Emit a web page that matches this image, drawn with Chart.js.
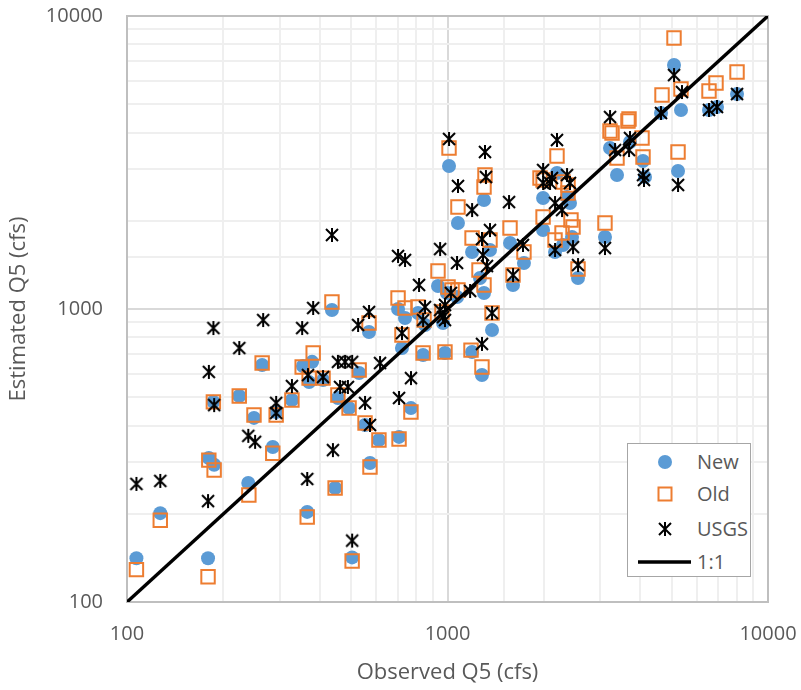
<!DOCTYPE html>
<html>
<head>
<meta charset="utf-8">
<script src="https://cdn.jsdelivr.net/npm/chart.js@4.4.0/dist/chart.umd.min.js"></script>
<style>
  body { margin: 0; background: #fff; }
  #wrap { position: relative; width: 801px; height: 690px; }
  #legend {
    position: absolute; left: 627px; top: 443px; width: 122px; height: 132px;
    border: 1px solid #a6a6a6; background: #fff;
    font-family: "Open Sans", sans-serif; font-size: 20px; color: #595959;
  }
  .item { position: absolute; left: 0; width: 122px; height: 30px; }
  .item svg { position: absolute; left: 0; top: 0; }
  .item span { position: absolute; left: 69px; top: 50%; transform: translateY(-50%); line-height: 1; }
</style>
</head>
<body>
<div id="wrap">
  <canvas id="chart" width="801" height="690"></canvas>
  <div id="legend"></div>
</div>
<script>
// labelled ticks on both log axes
const tickLabels = [100, 1000, 10000];

// New method
const newObserved = [107,127,179,180,187,186,224,239,249,264,285,292,327,354,365,370,378,409,436,446,455,493,504,530,553,569,573,611,701,706,721,737,769,809,839,851,934,968,982,996,1011,1071,1078,1193,1193,1263,1281,1300,1300,1357,1377,1567,1601,1732,1987,1987,2165,2196,2293,2360,2411,2446,2554,3100,3214,3380,3710,4074,4133,4636,5090,5239,5352,6545,6932,8005];
const newEstimated = [141,201,141,310,294,482,505,255,425,644,338,445,489,639,203,563,660,572,992,245,497,459,142,605,402,835,298,357,1000,366,736,932,459,969,697,882,1198,896,708,1134,3076,1099,1966,1565,713,1276,595,2355,1134,1590,848,1680,1208,1436,2392,1860,1565,2912,1654,2412,2300,1761,1276,1761,3544,2866,3715,3200,2821,4666,6804,2958,4778,4778,4892,5417];

// Old method
const oldObserved = [107,127,179,180,187,186,224,240,249,264,285,292,327,352,365,370,381,409,436,446,455,493,504,530,553,569,573,611,701,706,721,737,769,809,839,845,934,961,982,1004,1033,1078,1011,1078,1193,1184,1254,1281,1300,1300,1357,1377,1567,1601,1732,1987,1987,2165,2196,2277,2377,2377,2428,2464,2554,3100,3214,3261,3380,3684,3657,4074,4045,4670,5090,5239,5352,6545,6883,8005,1309,1944,2293];
const oldEstimated = [129,190,122,305,282,482,505,232,435,654,322,435,489,634,195,581,708,581,1056,245,509,459,138,619,408,896,289,357,1090,360,815,1008,445,1016,708,917,1348,977,713,1189,1161,1161,3544,2229,1747,724,1359,634,2609,1208,1720,969,1890,1306,1565,2756,2061,1720,3329,1817,2650,2489,2013,1905,1369,1966,4051,3988,3277,4451,4381,3303,3833,5375,8413,3435,5634,5546,5905,6441,2866,2800,2713];

// USGS regression
const usgsObserved = [107,127,179,180,186,187,224,239,251,266,292,292,327,352,365,367,381,409,436,439,455,479,504,462,489,504,526,553,569,573,616,701,737,706,721,769,815,839,851,948,948,968,982,982,1011,1025,1071,1078,1176,1193,1281,1281,1290,1309,1318,1328,1357,1377,1556,1601,1720,1987,1987,2089,2118,2165,2196,2277,2360,2411,2464,2554,3100,3214,3332,3684,3710,4074,4103,4636,5090,5239,5391,6545,6932,8005,2165];
const usgsEstimated = [253,259,221,610,861,470,736,369,352,917,478,442,546,861,263,595,1008,586,1789,330,660,660,660,542,542,162,882,478,977,402,654,1517,1470,497,828,581,1208,917,1016,1602,992,939,917,1032,3804,1134,1436,2630,1152,2177,1734,760,1529,3435,2821,1402,1860,969,2318,1306,1654,2982,2692,2692,2800,1590,3774,2177,2866,2692,1627,1413,1615,4521,3487,3487,3833,2866,2756,4666,6289,2650,5503,4778,4892,5417,2300];

// 1:1 line ends
const oneToOne = [100, 10000];

const toPoints = (xs, ys) => xs.map((x, i) => ({ x: x, y: ys[i] }));

// Excel-like asterisk marker
function makeStar() {
  const c = document.createElement('canvas');
  c.width = 16; c.height = 16;
  const g = c.getContext('2d');
  g.strokeStyle = '#000';
  g.lineWidth = 2;
  g.beginPath();
  g.moveTo(2, 2); g.lineTo(14, 14);
  g.moveTo(14, 2); g.lineTo(2, 14);
  g.moveTo(8, 1); g.lineTo(8, 15);
  g.stroke();
  return c;
}

const plotBorder = {
  id: 'plotBorder',
  beforeDatasetsDraw(chart) {
    const { ctx, chartArea: a } = chart;
    ctx.save();
    ctx.strokeStyle = '#bfbfbf';
    ctx.lineWidth = 2;
    ctx.strokeRect(a.left, a.top, a.right - a.left, a.bottom - a.top);
    ctx.restore();
  }
};

// keep the plot area where the layout padding puts it
const noLabelPadding = s => {
  s.paddingTop = 0; s.paddingBottom = 0; s.paddingLeft = 0; s.paddingRight = 0;
};

Chart.defaults.font.family = '"Open Sans", sans-serif';
Chart.defaults.color = '#595959';

const labelFor = v => tickLabels.includes(Math.round(v)) ? String(Math.round(v)) : '';
const gridColor = c => (c.tick && Math.round(c.tick.value) === 1000) ? '#d9d9d9' : '#efefef';

const chart = new Chart(document.getElementById('chart'), {
  type: 'scatter',
  data: {
    datasets: [
      {
        label: 'New',
        data: toPoints(newObserved, newEstimated),
        pointStyle: 'circle',
        pointRadius: 7,
        pointBorderWidth: 0,
        backgroundColor: '#5b9bd5',
        borderColor: '#5b9bd5',
        order: 3
      },
      {
        label: 'Old',
        data: toPoints(oldObserved, oldEstimated),
        pointStyle: 'rect',
        pointRadius: 9.5,
        pointBorderWidth: 2,
        backgroundColor: 'rgba(0,0,0,0)',
        borderColor: '#ed7d31',
        order: 2
      },
      {
        label: 'USGS',
        data: toPoints(usgsObserved, usgsEstimated),
        pointStyle: makeStar(),
        pointRadius: 8,
        backgroundColor: '#000',
        borderColor: '#000',
        order: 1
      },
      {
        label: '1:1',
        data: toPoints(oneToOne, oneToOne),
        showLine: true,
        pointRadius: 0,
        borderColor: '#000',
        borderWidth: 3.5,
        order: 0
      }
    ]
  },
  options: {
    responsive: false,
    animation: false,
    devicePixelRatio: 1,
    layout: { padding: { left: 0, top: 16, right: 33, bottom: 0 } },
    plugins: { legend: { display: false }, tooltip: { enabled: false } },
    scales: {
      x: {
        type: 'logarithmic',
        min: 100,
        max: 10000,
        afterFit: s => { s.height = 88; noLabelPadding(s); },
        border: { display: false },
        grid: { drawTicks: false, color: gridColor, lineWidth: 2 },
        ticks: { autoSkip: false, maxRotation: 0, padding: 20, font: { size: 20 }, callback: labelFor },
        title: { display: true, text: 'Observed Q5 (cfs)', font: { size: 22 }, padding: { top: 0, bottom: 4 } }
      },
      y: {
        type: 'logarithmic',
        min: 100,
        max: 10000,
        afterFit: s => { s.width = 127; noLabelPadding(s); },
        border: { display: false },
        grid: { drawTicks: false, color: gridColor, lineWidth: 2 },
        ticks: { autoSkip: false, padding: 24, font: { size: 20 }, callback: labelFor },
        title: { display: true, text: 'Estimated Q5 (cfs)', font: { size: 22 }, padding: { top: 6, bottom: 0 } }
      }
    }
  },
  plugins: [plotBorder]
});

// legend in the lower right corner of the plot, built from the datasets
const icons = {
  'New': '<circle cx="37" cy="15" r="7" fill="#5b9bd5"/>',
  'Old': '<rect x="30.5" y="8.5" width="13" height="13" fill="none" stroke="#ed7d31" stroke-width="2"/>',
  'USGS': '<path d="M31 9L43 21M43 9L31 21M37 8L37 22" stroke="#000" stroke-width="2"/>',
  '1:1': '<line x1="10" y1="15" x2="63" y2="15" stroke="#000" stroke-width="3.5"/>'
};
const rowCenters = [18, 50, 85, 118];
const legend = document.getElementById('legend');
chart.data.datasets.forEach((ds, i) => {
  const row = document.createElement('div');
  row.className = 'item';
  row.style.top = (rowCenters[i] - 15) + 'px';
  row.innerHTML = '<svg width="70" height="30">' + icons[ds.label] + '</svg><span>' + ds.label + '</span>';
  legend.appendChild(row);
});
</script>
</body>
</html>
